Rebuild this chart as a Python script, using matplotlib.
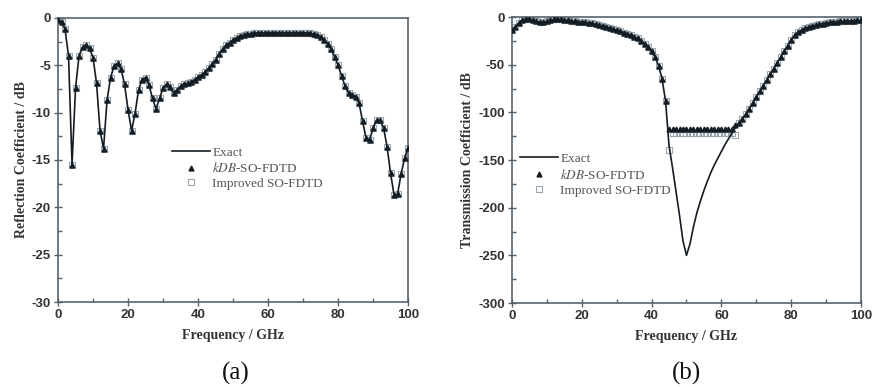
# Reflection and transmission coefficient plots (a) and (b)
import numpy as np
import matplotlib
matplotlib.use("Agg")
import matplotlib.pyplot as plt
from matplotlib.ticker import MultipleLocator

plt.rcParams['mathtext.fontset'] = 'stix'
plt.rcParams['axes.unicode_minus'] = False

# Data (frequency in GHz, coefficients in dB)
freq = np.arange(0, 101)

refl_exact = [-0.2, -0.4, -1.2, -4.0, -15.5, -7.4, -4.0, -3.1, -2.9, -3.2,
              -4.2, -6.9, -11.9, -13.8, -8.7, -6.3, -5.1, -4.8, -5.4, -7.0,
              -9.7, -11.9, -10.1, -7.6, -6.5, -6.3, -7.1, -8.5, -9.6, -8.5,
              -7.4, -7.0, -7.3, -7.9, -7.6, -7.2, -7.0, -6.9, -6.8, -6.5,
              -6.25, -6.0, -5.7, -5.3, -4.9, -4.4, -3.8, -3.3, -2.9, -2.6,
              -2.3, -2.1, -1.9, -1.8, -1.7, -1.65, -1.6, -1.55, -1.55, -1.55,
              -1.55, -1.55, -1.55, -1.55, -1.55, -1.55, -1.55, -1.55, -1.55, -1.55,
              -1.55, -1.6, -1.6, -1.7, -1.8, -2.0, -2.3, -2.7, -3.3, -4.1,
              -5.0, -6.1, -7.2, -7.9, -8.1, -8.3, -9.0, -10.9, -12.7, -12.9,
              -11.6, -10.8, -10.8, -11.6, -13.6, -16.4, -18.7, -18.6, -16.5, -14.8,
              -13.7]

trans_exact = [-14, -10, -6, -3, -2, -2, -3, -4.5, -5.5, -5.5,
               -4.5, -3.5, -2.5, -2.2, -2.3, -3, -3.5, -4, -4.5, -4.8,
               -5, -5.5, -6, -6.7, -7.5, -8.3, -9.2, -10.2, -11.3, -12.5,
               -13.8, -15, -16.3, -17.5, -18.8, -20.5, -22.5, -25, -28, -31.5,
               -36, -42, -51, -65, -88, -135, -158, -183, -208, -235,
               -250, -238, -220, -205, -193, -182, -172, -163, -155, -148,
               -141, -134, -128, -122, -116, -111, -107, -102, -96, -90,
               -84, -78, -72, -66, -60, -54, -48, -42, -36, -30,
               -24, -19, -16, -14, -12, -10.5, -9.5, -8.5, -7.5, -6.8,
               -6.2, -5.7, -5.2, -4.9, -4.6, -4.4, -4.2, -4.0, -3.8, -3.6,
               -3.5]

# kDB-SO-FDTD and improved SO-FDTD match the exact curve except in the stop band
kdb_band = [-117] * 19 + [-113]
improved_band = [-139] + [-122] * 18 + [-124]

trans_kdb = list(trans_exact)
trans_kdb[45:65] = kdb_band
trans_improved = list(trans_exact)
trans_improved[45:65] = improved_band

labels = ["Exact", r"$\mathit{kDB}$-SO-FDTD", "Improved SO-FDTD"]

line_col = "#141c24"
spine_col = "#56636e"
text_col = "#333333"
sq_col = "#9aa6b0"

fig = plt.figure(figsize=(8.74, 3.87), dpi=100)
ax1 = fig.add_axes([0.0664, 0.2196, 0.4005, 0.734])
ax2 = fig.add_axes([0.5858, 0.2170, 0.3993, 0.739])


def style_axis(ax, ylabel, ymin, ymax, ymajor):
	ax.set_xlim(0, 100)
	ax.set_ylim(ymin, ymax)
	ax.xaxis.set_major_locator(MultipleLocator(20))
	ax.xaxis.set_minor_locator(MultipleLocator(10))
	ax.yaxis.set_major_locator(MultipleLocator(ymajor))
	ax.yaxis.set_minor_locator(MultipleLocator(ymajor / 2))
	ax.tick_params(which='major', direction='inout', length=6, width=1,
		color=spine_col, labelcolor=text_col, pad=2)
	ax.tick_params(which='minor', direction='in', length=3, width=1, color=spine_col)
	for lab in ax.get_xticklabels() + ax.get_yticklabels():
		lab.set_fontfamily("Liberation Sans")
		lab.set_fontweight("bold")
		lab.set_fontsize(9.5)
	for sp in ax.spines.values():
		sp.set_color(spine_col)
		sp.set_linewidth(1.2)
	ax.set_xlabel("Frequency / GHz", fontfamily="Liberation Serif",
		fontweight="bold", fontsize=10, color=text_col, labelpad=6)
	ax.set_ylabel(ylabel, fontfamily="Liberation Serif",
		fontweight="bold", fontsize=10, color=text_col, labelpad=3)


def draw_legend(ax, anchor):
	leg = ax.legend(loc='upper left', bbox_to_anchor=anchor, frameon=False,
		prop={'family': 'Liberation Serif', 'size': 9.5},
		handlelength=2.9, handletextpad=0.15, labelspacing=0.2,
		borderpad=0, borderaxespad=0)
	for t in leg.get_texts():
		t.set_color("#555555")


# (a) Reflection coefficient
ax1.plot(freq, refl_exact, color=line_col, lw=1.2, label=labels[0], zorder=3)
ax1.plot(freq, refl_exact, ls='none', marker='^', ms=3.5, color=line_col,
	label=labels[1], zorder=4)
ax1.plot(freq, refl_exact, ls='none', marker='s', ms=4, mfc='none', mec=sq_col,
	mew=0.8, label=labels[2], zorder=2)
style_axis(ax1, "Reflection Coefficient / dB", -30, 0, 5)
draw_legend(ax1, (0.326, 0.548))

# (b) Transmission coefficient
ax2.plot(freq, trans_exact, color=line_col, lw=1.2, label=labels[0], zorder=3)
ax2.plot(freq, trans_kdb, ls='none', marker='^', ms=3.5, color=line_col,
	label=labels[1], zorder=4)
ax2.plot(freq, trans_improved, ls='none', marker='s', ms=4, mfc='none', mec=sq_col,
	mew=0.8, label=labels[2], zorder=2)
style_axis(ax2, "Transmission Coefficient / dB", -300, 0, 50)
draw_legend(ax2, (0.023, 0.525))

fig.text(0.270, 0.035, "(a)", fontfamily="Liberation Serif", fontsize=18,
	ha='center', va='center', color="#111111")
fig.text(0.786, 0.035, "(b)", fontfamily="Liberation Serif", fontsize=18,
	ha='center', va='center', color="#111111")

fig.savefig("out.png", dpi=100)
plt.close()
